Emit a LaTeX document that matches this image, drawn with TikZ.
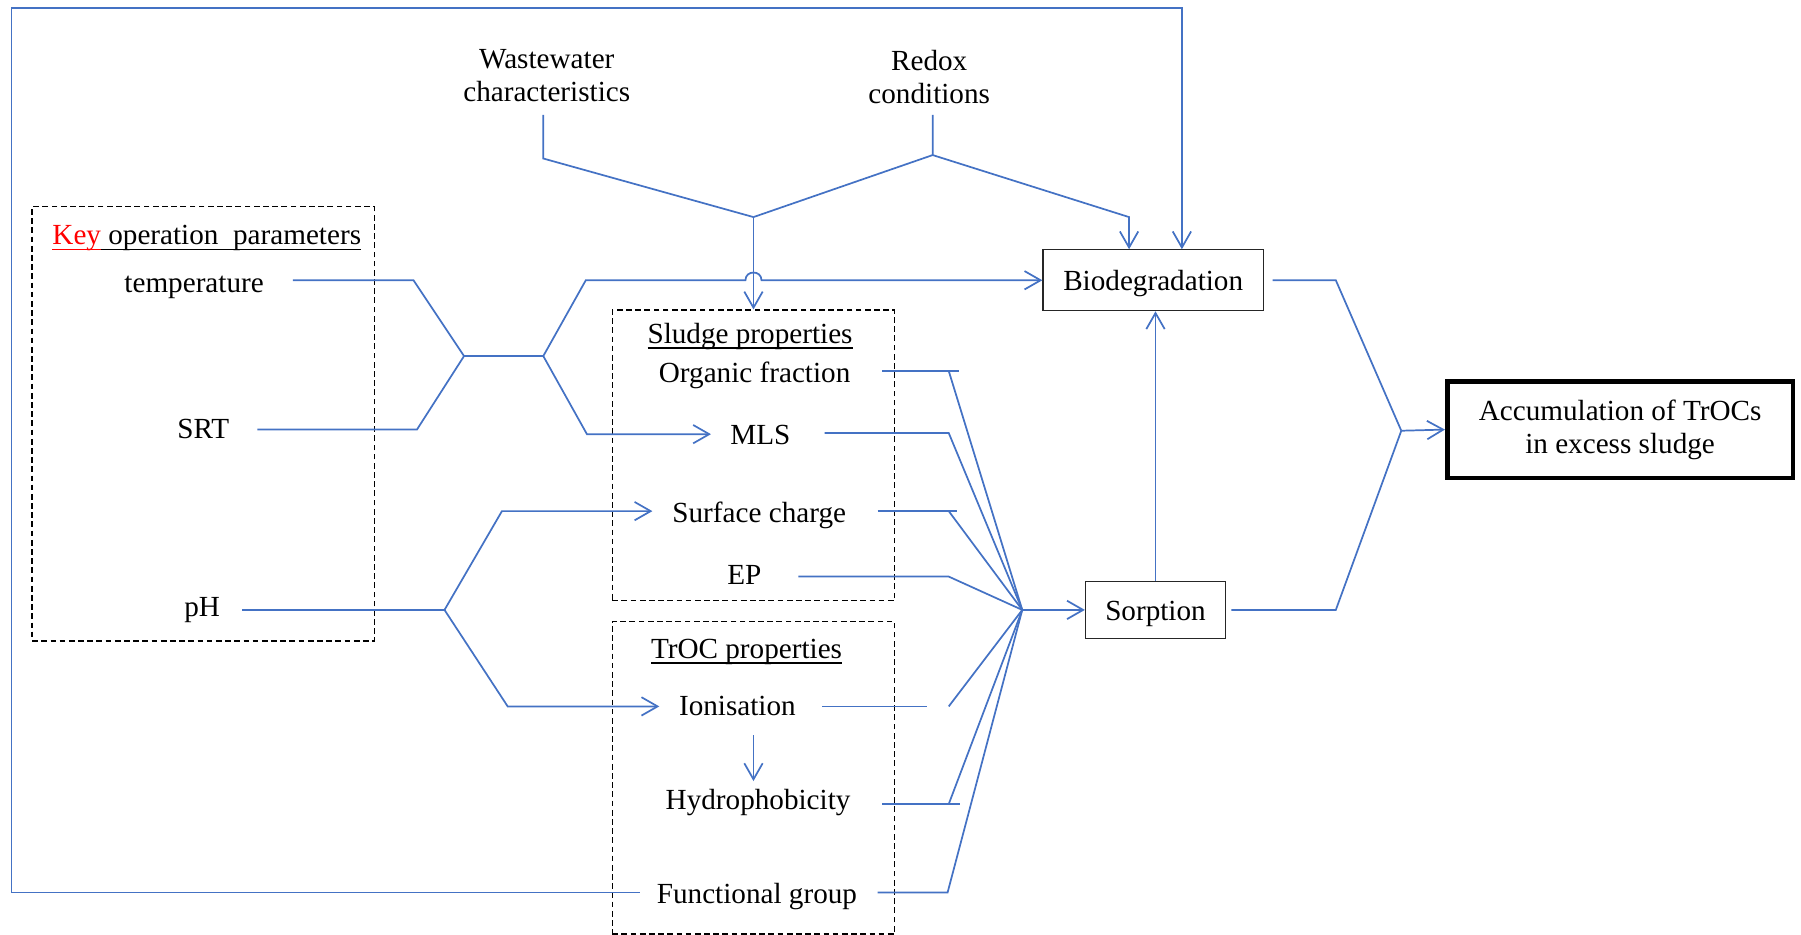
\documentclass[tikz,border=0pt]{standalone}
\usepackage{fontspec}
\setmainfont{Liberation Serif}
\usetikzlibrary{arrows.meta}
\definecolor{ln}{RGB}{68,114,196}
\newcommand\myul[2][black]{\leavevmode\setbox0\hbox{#2}\rlap{\color{#1}\rule[-2.4pt]{\wd0}{0.6pt}}\box0}
\begin{document}
\begin{tikzpicture}[x=0.5pt,y=-0.5pt,
  every node/.style={font=\fontsize{12.7}{14.5}\selectfont, inner sep=0pt, align=center},
  lbl/.style={text height=8.9pt, text depth=0pt},
  conn/.style={draw=ln, line width=0.75pt},
  arr/.style={conn, -{Straight Barb[length=7pt,width=8pt]}},
  dbox/.style={draw, dash pattern=on 2.5pt off 1.5pt, line width=0.6pt},
  pbox/.style={draw=black!85, line width=0.5pt, text height=8.9pt, text depth=0pt}]
\useasboundingbox (0,0) rectangle (1568,814);

% dashed group boxes
\node[dbox, minimum width=149pt, minimum height=189pt] (keybox) at (177,369) {};
\node[dbox, minimum width=123pt, minimum height=126.5pt] (sludge) at (656,396.5) {};
\node[dbox, minimum width=123pt, minimum height=136pt] (troc) at (656,677) {};

% process boxes
\node[pbox, minimum width=96pt, minimum height=26.5pt] (bio) at (1004,244) {Biodegradation};
\node[pbox, minimum width=61pt, minimum height=25pt] (sorp) at (1006,531) {Sorption};
\node[draw=black, line width=2pt, minimum width=150.5pt, minimum height=42pt] (acc) at (1410.5,374) {Accumulation of TrOCs\\in excess sludge};

% texts
\node (ww) at (476,66) {Wastewater\\characteristics};
\node (redox) at (809,67) {Redox\\conditions};
\node[lbl] (keyt) at (180,204) {\myul[red]{\textcolor{red}{Key}}\myul{ operation\ \ parameters}};
\node[lbl] (temp) at (169,246) {temperature};
\node[lbl] (srt) at (177,373) {SRT};
\node[lbl] (ph) at (176,528) {pH};
\node[lbl] (sludget) at (653,290) {\myul{Sludge properties}};
\node[lbl] (orgf) at (657,324) {Organic fraction};
\node[lbl] (mls) at (662,378) {MLS};
\node[lbl] (surf) at (661,446) {Surface charge};
\node[lbl] (ep) at (648,500) {EP};
\node[lbl] (troct) at (650,564) {\myul{TrOC properties}};
\node[lbl] (ion) at (642,614) {Ionisation};
\node[lbl] (hyd) at (660,696) {Hydrophobicity};
\node[lbl] (fg) at (659,778) {Functional group};

% coordinates
\coordinate (wwB) at (473,100);
\coordinate (wwK) at (473,138);
\coordinate (rdB) at (812,100);
\coordinate (rdK) at (812,135);
\coordinate (jTop) at (656,189);
\coordinate (bioA) at (983,189);
\coordinate (tempE) at (255,244);
\coordinate (tempK) at (360,244);
\coordinate (srtE) at (224,374);
\coordinate (srtK) at (363,374);
\coordinate (jK1) at (404,310);
\coordinate (jK2) at (473,310);
\coordinate (upK) at (510,244);
\coordinate (hopL) at (649,244);
\coordinate (hopR) at (663,244);
\coordinate (dnK) at (511,378);
\coordinate (mlsA) at (619,378);
\coordinate (phE) at (211,531);
\coordinate (jP) at (387,531);
\coordinate (pU) at (437,445);
\coordinate (scA) at (568,445);
\coordinate (pD) at (442,615);
\coordinate (ioA) at (574,615);
\coordinate (jS) at (890,531);
\coordinate (ofE) at (768,323);
\coordinate (ofT) at (835,323);
\coordinate (ofK) at (826,323);
\coordinate (mlsE) at (718,377);
\coordinate (mlsK) at (826,377);
\coordinate (scE) at (764,445);
\coordinate (scT) at (833,445);
\coordinate (scK) at (826,445);
\coordinate (epE) at (695,502);
\coordinate (epK) at (826,502);
\coordinate (ioE) at (716,615);
\coordinate (ioT) at (807,615);
\coordinate (ioK) at (826,615);
\coordinate (ioS) at (656,640);
\coordinate (hyN) at (656,680);
\coordinate (hyE) at (768,700);
\coordinate (hyT) at (836,700);
\coordinate (hyK) at (826,700);
\coordinate (fgE) at (764,777);
\coordinate (fgK) at (825,777);
\coordinate (fgW) at (557,777);
\coordinate (lpBL) at (10,777);
\coordinate (lpTL) at (10,7);
\coordinate (lpTR) at (1029,7);
\coordinate (bioE) at (1108,244);
\coordinate (bioK) at (1163,244);
\coordinate (soE) at (1072,531);
\coordinate (soK) at (1163,531);
\coordinate (jA) at (1220,375);

% top inputs
\draw[conn] (wwB) -- (wwK) -- (jTop);
\draw[conn] (rdB) -- (rdK) -- (jTop);
\draw[arr] (rdK) -- (bioA) -- (bioA |- bio.north);
\draw[arr] (jTop) -- (jTop |- sludge.north);

% key operation parameters
\draw[conn] (tempE) -- (tempK) -- (jK1);
\draw[conn] (srtE) -- (srtK) -- (jK1);
\draw[conn] (jK1) -- (jK2);
\draw[arr] (jK2) -- (upK) -- (hopL) .. controls (649,235) and (663,235) .. (hopR) -- (bio.west);
\draw[arr] (jK2) -- (dnK) -- (mlsA);
\draw[conn] (phE) -- (jP);
\draw[arr] (jP) -- (pU) -- (scA);
\draw[arr] (jP) -- (pD) -- (ioA);

% to sorption
\draw[conn] (ofE) -- (ofT);
\draw[conn] (ofK) -- (jS);
\draw[conn] (mlsE) -- (mlsK) -- (jS);
\draw[conn] (scE) -- (scT);
\draw[conn] (scK) -- (jS);
\draw[conn] (epE) -- (epK) -- (jS);
\draw[conn] (ioE) -- (ioT);
\draw[conn] (ioK) -- (jS);
\draw[arr] (ioS) -- (hyN);
\draw[conn] (hyE) -- (hyT);
\draw[conn] (hyK) -- (jS);
\draw[conn] (fgE) -- (fgK) -- (jS);
\draw[arr] (jS) -- (sorp.west);

% feedback loop
\draw[arr] (fgW) -- (lpBL) -- (lpTL) -- (lpTR) -- (lpTR |- bio.north);

% sorption to biodegradation
\draw[arr] (sorp.north) -- (sorp.north |- bio.south);

% to accumulation
\draw[conn] (bioE) -- (bioK) -- (jA);
\draw[conn] (soE) -- (soK) -- (jA);
\draw[arr] (jA) -- (acc.west);
\end{tikzpicture}
\end{document}
